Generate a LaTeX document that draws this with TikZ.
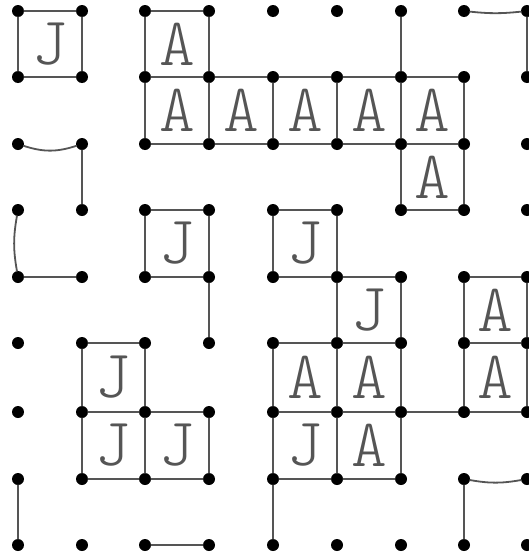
\documentclass[tikz,border=0pt]{standalone}
\usetikzlibrary{calc}
\definecolor{ink}{HTML}{555555}
\begin{document}
\begin{tikzpicture}[x=1pt,y=1pt,
  dot/.style={circle,fill=black,inner sep=0pt,minimum size=12pt},
  edge/.style={draw=ink,line width=1.8pt,line cap=round},
  letter/.style={text=ink,inner sep=0pt,font=\fontfamily{lmtt}\fontseries{l}\fontsize{68}{68}\selectfont}]
\useasboundingbox (0,0) rectangle (528,-557);
\fill[white] (0,0) rectangle (528,-557);
% dot grid
\foreach \c/\x in {0/18,1/82,2/145,3/209,4/273,5/337,6/401,7/464,8/527}{
  \foreach \r/\y in {0/11,1/77,2/144,3/210,4/277,5/343,6/412,7/479,8/545}{
    \node[dot] (d\c\r) at (\x,-\y) {};
  }
}
% claimed squares with letters
\foreach \c/\r/\l in {0/0/J,2/0/A,2/1/A,3/1/A,4/1/A,5/1/A,6/1/A,6/2/A,
  2/3/J,4/3/J,5/4/J,7/4/A,1/5/J,4/5/A,5/5/A,7/5/A,1/6/J,2/6/J,4/6/J,5/6/A}{
  \pgfmathtruncatemacro\cc{\c+1}
  \pgfmathtruncatemacro\rr{\r+1}
  \draw[edge] (d\c\r) -- (d\cc\r) (d\cc\r) -- (d\cc\rr)
              (d\cc\rr) -- (d\c\rr) (d\c\rr) -- (d\c\r);
  \node[letter] (L\c\r) at ($(d\c\r)!0.5!(d\cc\rr)$) {\l};
}
% single lines
\draw[edge] (d60) -- (d61);
\draw[edge] (d70) to[bend right=6] (d80);
\draw[edge] (d80) -- (d81);
\draw[edge] (d02) to[bend right=18] (d12);
\draw[edge] (d12) -- (d13);
\draw[edge] (d03) to[bend right=10] (d04);
\draw[edge] (d04) -- (d14);
\draw[edge] (d34) -- (d35);
\draw[edge] (d66) -- (d76);
\draw[edge] (d07) -- (d08);
\draw[edge] (d28) -- (d38);
\draw[edge] (d47) -- (d48);
\draw[edge] (d77) to[bend right=10] (d87);
\draw[edge] (d77) -- (d78);
\end{tikzpicture}
\end{document}
